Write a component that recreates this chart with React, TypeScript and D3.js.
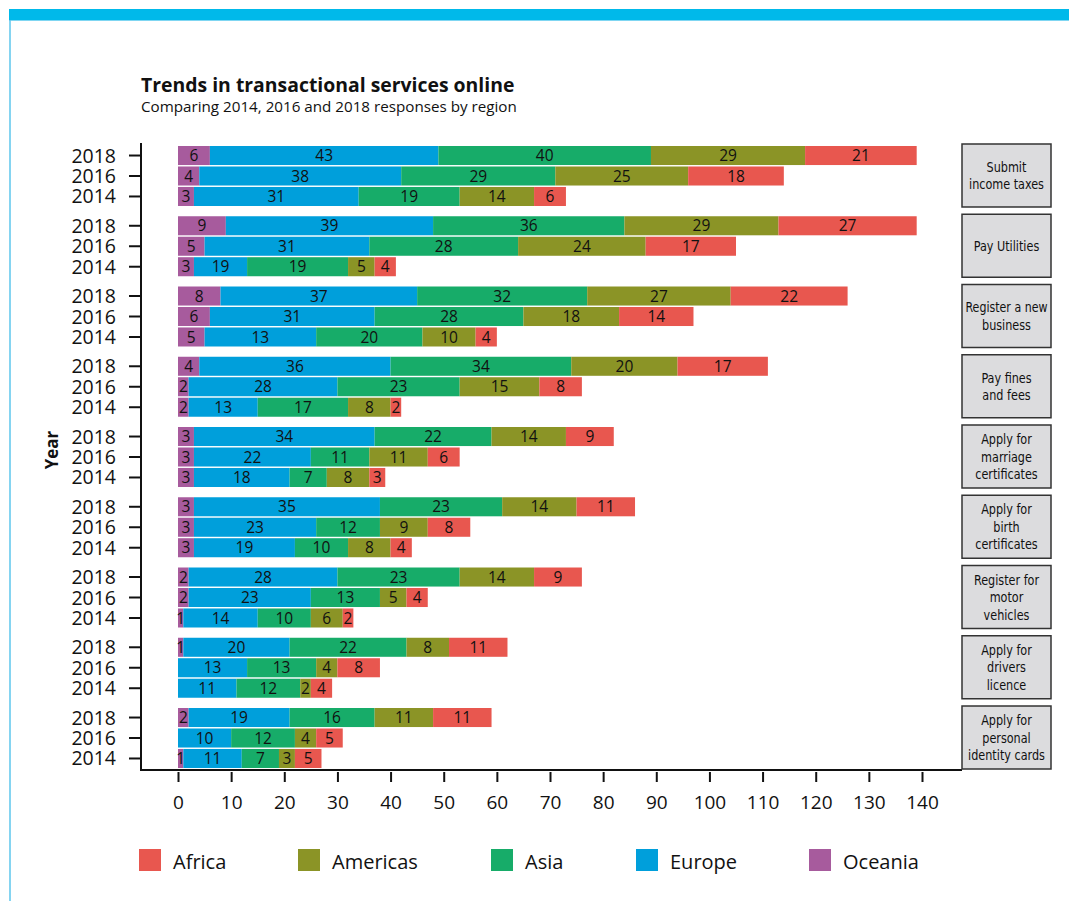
import React, { useEffect, useRef } from 'react';
import * as d3 from 'd3';

const services = [
  'Submit income taxes',
  'Pay Utilities',
  'Register a new business',
  'Pay fines and fees',
  'Apply for marriage certificates',
  'Apply for birth certificates',
  'Register for motor vehicles',
  'Apply for drivers licence',
  'Apply for personal identity cards',
];

// box labels, one entry per line
const serviceLines = [
  ['Submit', 'income taxes'],
  ['Pay Utilities'],
  ['Register a new', 'business'],
  ['Pay fines', 'and fees'],
  ['Apply for', 'marriage', 'certificates'],
  ['Apply for', 'birth', 'certificates'],
  ['Register for', 'motor', 'vehicles'],
  ['Apply for', 'drivers', 'licence'],
  ['Apply for', 'personal', 'identity cards'],
];

const years = ['2018', '2016', '2014'];

// stacking order, left to right
const regions = ['Oceania', 'Europe', 'Asia', 'Americas', 'Africa'];
const legendOrder = ['Africa', 'Americas', 'Asia', 'Europe', 'Oceania'];

const colors: Record<string, string> = {
  Africa: '#e8574f',
  Americas: '#8b9426',
  Asia: '#17ac69',
  Europe: '#009fdb',
  Oceania: '#a75b9d',
};

// values per service, in year order 2018, 2016, 2014
const oceania = [[6, 4, 3], [9, 5, 3], [8, 6, 5], [4, 2, 2], [3, 3, 3], [3, 3, 3], [2, 2, 1], [1, 0, 0], [2, 0, 1]];
const europe = [[43, 38, 31], [39, 31, 10], [37, 31, 21], [36, 28, 13], [34, 22, 18], [35, 23, 19], [28, 23, 14], [20, 13, 11], [19, 10, 11]];
const asia = [[40, 29, 19], [36, 28, 19], [32, 28, 20], [34, 23, 17], [22, 11, 7], [23, 12, 10], [23, 13, 10], [22, 13, 12], [16, 12, 7]];
const americas = [[29, 25, 14], [29, 24, 5], [27, 18, 10], [20, 15, 8], [14, 11, 8], [14, 9, 8], [14, 5, 6], [8, 4, 2], [11, 4, 3]];
const africa = [[21, 18, 6], [26, 17, 4], [22, 14, 4], [17, 8, 2], [9, 6, 3], [11, 8, 4], [9, 4, 2], [11, 8, 4], [11, 5, 5]];

// the printed numbers that do not match the bar length in the original
const labelOverrides: Record<string, number> = {
  'Pay Utilities|2018|Africa': 27,
  'Pay Utilities|2014|Europe': 19,
  'Register a new business|2014|Europe': 13,
};

const xTicks = [0, 10, 20, 30, 40, 50, 60, 70, 80, 90, 100, 110, 120, 130, 140];

const FONT = "'Open Sans', 'Noto Sans', sans-serif";
const NARROW = "'Liberation Sans Narrow', 'DejaVu Sans Condensed', 'Arial Narrow', sans-serif";

const App: React.FC = () => {
  const svgRef = useRef<SVGSVGElement>(null);
  const width = 1069;
  const height = 901;

  useEffect(() => {
    if (!svgRef.current) return;
    const svg = d3.select(svgRef.current);
    svg.selectAll('*').remove();

    const byRegion: Record<string, number[][]> = {
      Oceania: oceania,
      Europe: europe,
      Asia: asia,
      Americas: americas,
      Africa: africa,
    };

    const rows = services.flatMap((s, i) =>
      years.map((y, j) => {
        const r: any = { service: s, year: y };
        regions.forEach(k => { r[k] = byRegion[k][i][j]; });
        return r;
      })
    );

    const x = d3.scaleLinear().domain([0, 140]).range([178, 922]);
    const yGroup = d3.scaleBand<string>().domain(services).range([146, 768]).paddingInner(0.146);
    const yYear = d3.scaleBand<string>().domain(years).range([0, yGroup.bandwidth()]).paddingInner(0.07);
    const rowY = (d: any) => (yGroup(d.service) as number) + (yYear(d.year) as number);

    // page decoration
    svg.append('rect').attr('x', 9).attr('y', 9).attr('width', width - 9).attr('height', 11).attr('fill', '#00b9ea');
    svg.append('line').attr('x1', 9).attr('x2', width).attr('y1', 20.5).attr('y2', 20.5).attr('stroke', '#7fd6f2').attr('stroke-width', 1);
    svg.append('line').attr('x1', 10).attr('x2', 10).attr('y1', 20).attr('y2', height).attr('stroke', '#5cc6ec').attr('stroke-width', 1.5);

    // title
    svg.append('text')
      .attr('x', 141).attr('y', 92)
      .attr('font-family', FONT).attr('font-weight', 700).attr('font-size', 19.4)
      .attr('fill', '#111')
      .text('Trends in transactional services online');
    svg.append('text')
      .attr('x', 141).attr('y', 112)
      .attr('font-family', FONT).attr('font-size', 15.2)
      .attr('fill', '#111')
      .text('Comparing 2014, 2016 and 2018 responses by region');

    // stacked bars
    const series = d3.stack<any>().keys(regions)(rows);
    const layer = svg.append('g').selectAll('g')
      .data(series)
      .enter()
      .append('g')
      .attr('fill', d => colors[d.key]);

    layer.selectAll('rect')
      .data(d => d.filter(p => p[1] > p[0]))
      .enter()
      .append('rect')
      .attr('x', d => x(d[0]))
      .attr('y', d => rowY(d.data))
      .attr('width', d => x(d[1]) - x(d[0]))
      .attr('height', yYear.bandwidth());

    const labels: any[] = [];
    series.forEach(s => {
      s.forEach(p => {
        if (p[1] <= p[0]) return;
        const key = `${p.data.service}|${p.data.year}|${s.key}`;
        labels.push({
          x: (x(p[0]) + x(p[1])) / 2,
          y: rowY(p.data) + yYear.bandwidth() / 2,
          text: labelOverrides[key] ?? p[1] - p[0],
        });
      });
    });

    svg.append('g').selectAll('text')
      .data(labels)
      .enter()
      .append('text')
      .attr('x', d => d.x)
      .attr('y', d => d.y)
      .attr('dy', '0.36em')
      .attr('text-anchor', 'middle')
      .attr('font-family', FONT)
      .attr('font-size', 15.5)
      .attr('fill', '#111')
      .text(d => d.text);

    // frame
    const frameY = 770;
    svg.append('line').attr('x1', 141).attr('x2', 141).attr('y1', 143).attr('y2', frameY + 1).attr('stroke', '#111').attr('stroke-width', 2);
    svg.append('line').attr('x1', 140).attr('x2', 962).attr('y1', frameY).attr('y2', frameY).attr('stroke', '#111').attr('stroke-width', 2);

    // year ticks
    const yTicks = svg.append('g');
    rows.forEach(r => {
      const cy = rowY(r) + yYear.bandwidth() / 2;
      yTicks.append('line').attr('x1', 129).attr('x2', 141).attr('y1', cy).attr('y2', cy).attr('stroke', '#111').attr('stroke-width', 2);
      yTicks.append('text')
        .attr('x', 116).attr('y', cy).attr('dy', '0.36em')
        .attr('text-anchor', 'end')
        .attr('font-family', FONT).attr('font-size', 19.5).attr('fill', '#111')
        .text(r.year);
    });

    svg.append('text')
      .attr('transform', `translate(58,450) rotate(-90)`)
      .attr('text-anchor', 'middle')
      .attr('font-family', FONT).attr('font-weight', 700).attr('font-size', 17)
      .attr('fill', '#111')
      .text('Year');

    // x axis
    const xAxis = svg.append('g')
      .attr('transform', `translate(0,${frameY + 2})`)
      .call(d3.axisBottom(x).tickValues(xTicks).tickSize(10).tickPadding(14).tickFormat(d3.format('d')));
    xAxis.select('.domain').remove();
    xAxis.selectAll('.tick line').attr('stroke', '#111').attr('stroke-width', 2);
    xAxis.selectAll('.tick text')
      .attr('font-family', FONT).attr('font-size', 19).attr('fill', '#111');

    // service boxes
    const boxes = svg.append('g');
    services.forEach((s, i) => {
      const top = (yGroup(s) as number) - 2;
      const h = yGroup.bandwidth() + 3;
      boxes.append('rect')
        .attr('x', 962).attr('y', top).attr('width', 89).attr('height', h)
        .attr('fill', '#dcdcde').attr('stroke', '#333').attr('stroke-width', 1.5);
      const lines = serviceLines[i];
      const lh = 17.5;
      const t = boxes.append('text')
        .attr('text-anchor', 'middle')
        .attr('font-family', NARROW).attr('font-size', 14.5).attr('fill', '#111');
      lines.forEach((ln, k) => {
        const span = t.append('tspan')
          .attr('x', 1006.5)
          .attr('y', top + h / 2 + (k - (lines.length - 1) / 2) * lh)
          .attr('dy', '0.35em')
          .text(ln);
        // squeeze to look like the condensed face of the original
        const w = (span.node() as SVGTSpanElement).getComputedTextLength();
        span.attr('textLength', Math.min(w * 0.86, 82)).attr('lengthAdjust', 'spacingAndGlyphs');
      });
    });

    // legend
    const legendX = [139, 298, 491, 636, 809];
    const legend = svg.append('g');
    legendOrder.forEach((k, i) => {
      legend.append('rect')
        .attr('x', legendX[i]).attr('y', 849).attr('width', 22).attr('height', 22)
        .attr('fill', colors[k]);
      legend.append('text')
        .attr('x', legendX[i] + 34).attr('y', 862).attr('dy', '0.36em')
        .attr('font-family', FONT).attr('font-size', 20).attr('fill', '#111')
        .text(k);
    });
  }, []);

  return (
    <svg
      ref={svgRef}
      width={width}
      height={height}
      style={{ position: 'absolute', left: 0, top: 0, background: '#fff' }}
    />
  );
};

export default App;
